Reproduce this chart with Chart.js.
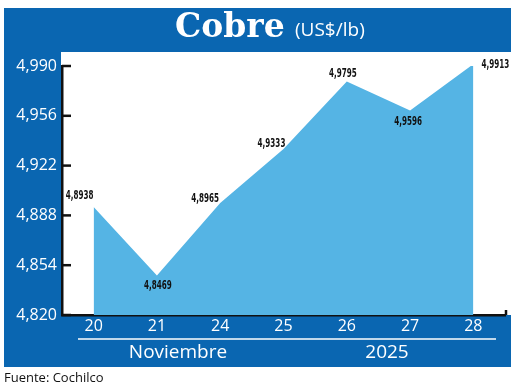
<!DOCTYPE html>
<html>
<head>
<meta charset="utf-8">
<script src="https://cdn.jsdelivr.net/npm/chart.js@4.4.1/dist/chart.umd.min.js"></script>
<style>
  body { margin: 0; background: #fff; }
  #wrap { width: 520px; height: 388px; position: relative; }
</style>
</head>
<body>
<div id="wrap"><canvas id="cobre"></canvas></div>
<script>
// Datos
const dias = ['20', '21', '24', '25', '26', '27', '28'];
const precios = [4.8938, 4.8469, 4.8965, 4.9333, 4.9795, 4.9596, 4.9913];
const etiquetas = ['4,8938', '4,8469', '4,8965', '4,9333', '4,9795', '4,9596', '4,9913'];
const yMin = 4.820;
const yMax = 4.990;
const yPaso = 0.034;

const AZUL = '#0a66b1';
const CELESTE = '#55b4e4';

// Fondo: panel azul, área blanca, título
const fondo = {
    id: 'fondo',
    beforeDraw(chart) {
        const ctx = chart.ctx;
        ctx.save();
        ctx.fillStyle = AZUL;
        ctx.fillRect(4, 8, 507, 359);
        ctx.fillStyle = '#fff';
        ctx.fillRect(61, 52, 450, 263);

        // título
        ctx.fillStyle = '#fff';
        ctx.textBaseline = 'alphabetic';
        ctx.textAlign = 'left';
        ctx.font = 'bold 33px "DejaVu Serif"';
        ctx.fillText('Cobre', 175, 37);
        ctx.font = '19px "Open Sans"';
        ctx.fillText('(US$/lb)', 295, 36);
        ctx.restore();
    },
    afterDraw(chart) {
        const ctx = chart.ctx;
        const y = chart.scales.y;
        const area = chart.chartArea;
        ctx.save();
        // marcas del eje y hacia adentro
        ctx.strokeStyle = '#111';
        ctx.lineWidth = 2.5;
        y.ticks.forEach(t => {
            const py = y.getPixelForValue(t.value);
            ctx.beginPath();
            ctx.moveTo(area.left, py);
            ctx.lineTo(area.left + 9, py);
            ctx.stroke();
        });
        ctx.beginPath();
        ctx.moveTo(area.right + 1, area.bottom);
        ctx.lineTo(area.right + 1, area.bottom - 5);
        ctx.stroke();

        // línea blanca y textos inferiores
        ctx.strokeStyle = '#fff';
        ctx.lineWidth = 1.5;
        ctx.beginPath();
        ctx.moveTo(78, 339);
        ctx.lineTo(496, 339);
        ctx.stroke();
        ctx.fillStyle = '#fff';
        ctx.font = '19px "Open Sans"';
        ctx.textAlign = 'center';
        ctx.textBaseline = 'middle';
        ctx.fillText('Noviembre', 178, 353);
        ctx.fillText('2025', 387, 353);

        // fuente
        ctx.fillStyle = '#111';
        ctx.font = '13px "Open Sans"';
        ctx.textAlign = 'left';
        ctx.fillText('Fuente: Cochilco', 4, 378);
        ctx.restore();
    }
};

// Etiquetas de valores (letra angosta: se comprime en x)
const desplaz = [[-14, -11], [1, 10], [-15, -4], [-12, -5], [-4, -8], [-2, 11], [22, 1]];
const valores = {
    id: 'valores',
    afterDatasetsDraw(chart) {
        const ctx = chart.ctx;
        const pts = chart.getDatasetMeta(0).data;
        const sx = 0.64;
        ctx.save();
        ctx.fillStyle = '#111';
        ctx.font = 'bold 12.5px "DejaVu Sans Condensed"';
        ctx.textAlign = 'center';
        ctx.textBaseline = 'middle';
        pts.forEach((p, i) => {
            ctx.save();
            ctx.translate(p.x + desplaz[i][0], p.y + desplaz[i][1]);
            ctx.scale(sx, 1);
            ctx.fillText(etiquetas[i], 0, 0);
            ctx.restore();
        });
        ctx.restore();
    }
};

new Chart(document.getElementById('cobre'), {
    type: 'line',
    data: {
        labels: dias,
        datasets: [{
            data: precios,
            fill: 'start',
            backgroundColor: CELESTE,
            borderWidth: 0,
            pointRadius: 0,
            tension: 0
        }]
    },
    options: {
        responsive: true,
        maintainAspectRatio: false,
        animation: false,
        layout: { padding: { top: 66, right: 15, bottom: 53, left: 0 } },
        plugins: {
            legend: { display: false },
            tooltip: { enabled: false }
        },
        scales: {
            x: {
                offset: true,
                afterFit: s => { s.height = 20; },
                grid: { display: false, drawTicks: false },
                border: { display: true, color: '#111', width: 2.5 },
                ticks: {
                    color: '#fff',
                    font: { family: 'Open Sans', size: 16 },
                    padding: 2,
                    maxRotation: 0
                }
            },
            y: {
                min: yMin,
                max: yMax,
                afterFit: s => { s.width = 62; },
                grid: { display: false, drawTicks: false },
                border: { display: true, color: '#111', width: 2.5 },
                ticks: {
                    stepSize: yPaso,
                    color: '#fff',
                    font: { family: 'Open Sans', size: 16 },
                    padding: 5,
                    callback: v => v.toFixed(3).replace('.', ',')
                }
            }
        }
    },
    plugins: [fondo, valores]
});
</script>
</body>
</html>
